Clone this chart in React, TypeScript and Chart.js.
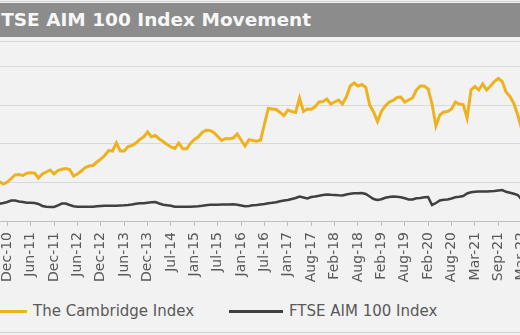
import React, { useEffect, useRef } from "react";
import { Chart, registerables } from "chart.js";

Chart.register(...registerables);

// x-axis tick labels (one every ~6 months)
const tickLabels = [
  "Dec-10", "Jun-11", "Dec-11", "Jun-12", "Dec-12", "Jun-13", "Dec-13", "Jul-14",
  "Jan-15", "Jul-15", "Jan-16", "Jul-16", "Jan-17", "Aug-17", "Feb-18", "Aug-18",
  "Feb-19", "Aug-19", "Feb-20", "Aug-20", "Mar-21", "Sep-21", "Mar-22",
];

// samples: 6 per label interval, first sample half an interval before Dec-10
const sampleStart = -0.5;
const samplesPerTick = 6;

const cambridgeIndex = [
  103.9, 102.1, 96.1, 101.3, 110.4, 119.5, 120.8, 118.2, 123.9, 125.4,
  124.7, 111.7, 122.1, 127.3, 132.5, 122.1, 131.2, 134.3, 136.4, 133.8,
  116.9, 122.1, 129.9, 139.0, 142.9, 144.2, 153.2, 161.0, 170.1, 183.1,
  181.8, 202.6, 181.8, 181.8, 193.5, 196.1, 202.6, 211.7, 218.2, 231.2,
  219.0, 222.1, 213.0, 206.5, 198.7, 192.2, 188.3, 202.6, 188.3, 187.0,
  201.3, 211.7, 218.2, 229.9, 235.6, 235.1, 229.9, 219.5, 209.1, 214.3,
  213.8, 215.6, 226.0, 210.4, 194.8, 211.4, 209.1, 207.0, 210.4, 251.9,
  292.2, 290.9, 289.6, 281.8, 274.0, 288.3, 284.4, 281.8, 319.5, 284.4,
  290.9, 290.1, 296.9, 309.1, 310.4, 316.9, 303.9, 309.1, 314.3, 303.9,
  322.1, 350.6, 358.4, 350.6, 354.5, 346.8, 301.3, 283.1, 258.4, 284.4,
  298.7, 309.1, 313.0, 320.8, 322.1, 309.1, 314.3, 319.5, 340.3, 350.6,
  350.6, 342.9, 303.9, 246.8, 275.3, 283.1, 284.4, 290.9, 309.1, 303.9,
  302.6, 267.5, 340.3, 349.4, 340.3, 355.8, 340.3, 350.6, 362.3, 370.1,
  362.3, 335.1, 323.4, 305.2, 275.3, 239.0, 215.6,
];

const ftseAim100 = [
  42.9, 44.7, 46.7, 49.3, 53.2, 53.2, 50.6, 49.3, 47.5, 47.5,
  46.7, 44.2, 39.0, 37.1, 36.4, 36.4, 40.8, 45.4, 45.4, 41.6,
  38.2, 37.1, 37.1, 37.1, 37.1, 37.1, 38.2, 39.0, 39.7, 39.7,
  39.7, 39.7, 40.3, 40.8, 41.6, 42.9, 44.7, 46.0, 46.0, 47.3,
  48.6, 49.3, 45.4, 42.1, 40.8, 39.5, 37.1, 37.1, 37.1, 37.1,
  37.1, 37.7, 38.4, 39.5, 41.0, 42.1, 42.3, 42.3, 42.6, 42.9,
  43.1, 43.4, 42.1, 40.3, 38.2, 39.0, 40.8, 41.6, 42.9, 44.2,
  46.2, 47.3, 48.8, 51.4, 53.2, 54.5, 57.1, 59.7, 63.6, 61.0,
  58.4, 62.3, 63.6, 65.4, 67.5, 68.8, 68.0, 67.5, 66.7, 66.2,
  68.8, 70.6, 71.9, 72.2, 72.7, 70.1, 63.6, 57.1, 54.5, 56.4,
  60.3, 62.3, 63.6, 62.8, 61.8, 59.0, 55.8, 55.8, 59.0, 59.7,
  61.8, 62.3, 41.6, 46.7, 53.2, 55.1, 55.8, 58.4, 61.5, 62.8,
  64.9, 71.4, 74.5, 76.1, 76.4, 76.6, 76.9, 77.4, 77.9, 79.2,
  80.5, 75.8, 73.5, 70.6, 67.5, 55.8, 46.7,
];

const seriesNames = ["The Cambridge Index", "FTSE AIM 100 Index"];
const seriesColors = ["#EEB21E", "#404040"];
const titleText = "FTSE AIM 100 Index Movement";

const FONT = "'DejaVu Sans', Verdana, sans-serif";

function toPoints(values: number[]) {
  return values.map((v, i) => ({ x: sampleStart + i / samplesPerTick, y: v }));
}

export default function App() {
  const ref = useRef<HTMLCanvasElement | null>(null);

  useEffect(() => {
    const canvas = ref.current;
    if (!canvas) return;
    const chart = new Chart(canvas, {
      type: "line",
      data: {
        datasets: [
          {
            label: seriesNames[0],
            data: toPoints(cambridgeIndex),
            borderColor: seriesColors[0],
            backgroundColor: seriesColors[0],
            borderWidth: 3,
            pointRadius: 0,
            tension: 0,
          },
          {
            label: seriesNames[1],
            data: toPoints(ftseAim100),
            borderColor: seriesColors[1],
            backgroundColor: seriesColors[1],
            borderWidth: 2.5,
            pointRadius: 0,
            tension: 0,
          },
        ],
      },
      options: {
        animation: false,
        responsive: false,
        maintainAspectRatio: false,
        layout: { padding: { top: 11, left: 0, right: 0, bottom: 0 } },
        plugins: { legend: { display: false }, title: { display: false }, tooltip: { enabled: false } },
        scales: {
          x: {
            type: "linear",
            min: -2.0231,
            max: 23.64,
            afterBuildTicks: (s: any) => {
              s.ticks = tickLabels.map((_, i) => ({ value: i }));
            },
            afterFit: (s: any) => {
              s.height = 79;
            },
            ticks: {
              autoSkip: false,
              minRotation: 90,
              maxRotation: 90,
              padding: 6,
              color: "#595959",
              font: { family: FONT, size: 14 },
              callback: (v: any) => tickLabels[v as number] ?? "",
            },
            grid: { drawOnChartArea: false, drawTicks: true, tickLength: 5, color: "#bfbfbf" },
            border: { display: true, color: "#bfbfbf", width: 1 },
          },
          y: {
            min: 0,
            max: 467.5,
            afterFit: (s: any) => {
              s.width = 0;
            },
            ticks: { display: false, stepSize: 100 },
            grid: { color: "#d9d9d9", drawTicks: false, lineWidth: 1 },
            border: { display: false },
          },
        },
      },
    });
    return () => chart.destroy();
  }, []);

  return (
    <div
      style={{
        position: "fixed",
        left: 0,
        top: 0,
        width: 520,
        height: 335,
        overflow: "hidden",
        background: "#f2f2f2",
        fontFamily: FONT,
      }}
    >
      <div style={{ position: "absolute", left: 0, top: 1, width: 520, height: 1, background: "#d0d0d0" }} />
      <div
        style={{
          position: "absolute",
          left: 0,
          top: 3,
          width: 520,
          height: 34,
          background: "#8c8c8c",
        }}
      />
      <div
        style={{
          position: "absolute",
          left: -11.5,
          top: 3,
          height: 34,
          lineHeight: "34px",
          fontSize: 18.5,
          fontWeight: "bold",
          color: "#f7f7f7",
          whiteSpace: "nowrap",
        }}
      >
        {titleText}
      </div>
      <canvas
        ref={ref}
        width={600}
        height={270}
        style={{ position: "absolute", left: -40, top: 30, width: 600, height: 270 }}
      />
      <div style={{ position: "absolute", left: -20, top: 310, width: 47, height: 3, background: seriesColors[0] }} />
      <div
        style={{
          position: "absolute",
          left: 33,
          top: 300,
          height: 22,
          lineHeight: "22px",
          fontSize: 15,
          color: "#595959",
          whiteSpace: "nowrap",
        }}
      >
        {seriesNames[0]}
      </div>
      <div style={{ position: "absolute", left: 229, top: 310, width: 54, height: 3, background: seriesColors[1] }} />
      <div
        style={{
          position: "absolute",
          left: 289,
          top: 300,
          height: 22,
          lineHeight: "22px",
          fontSize: 15,
          color: "#595959",
          whiteSpace: "nowrap",
        }}
      >
        {seriesNames[1]}
      </div>
      <div style={{ position: "absolute", left: 0, top: 332, width: 520, height: 1, background: "#d0d0d0" }} />
    </div>
  );
}
